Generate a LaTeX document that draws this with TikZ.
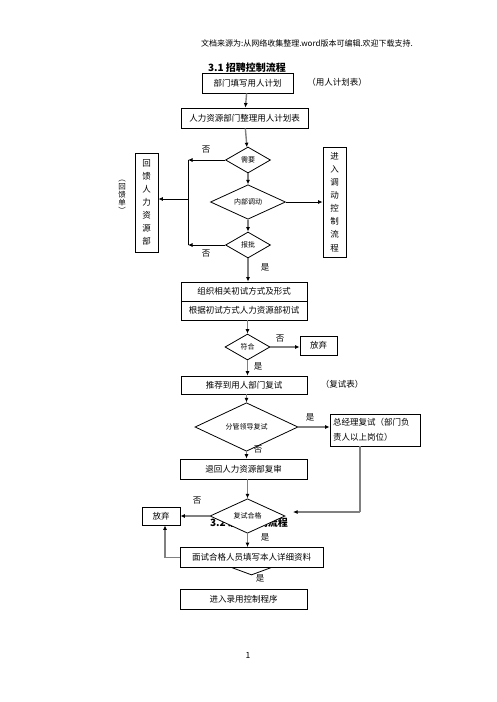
\documentclass[tikz,border=0pt]{standalone}
\usepackage{fontspec}
\newfontfamily\cjk{Noto Sans CJK SC}
\usetikzlibrary{shapes.geometric,arrows.meta}
\tikzset{
  box/.style={draw,thick,rectangle,inner sep=0pt,font=\cjk\fontsize{8.5}{10}\selectfont},
  dia/.style={draw,thick,diamond,inner sep=0pt,fill=white,font=\cjk\fontsize{7}{8}\selectfont},
  lbl/.style={font=\cjk\fontsize{8.5}{10}\selectfont,inner sep=0pt},
  garr/.style={draw=gray,line width=1.4pt,-{Latex[length=4.5pt,width=4pt,color=black]}},
  gline/.style={draw=gray,line width=1.4pt},
  barr/.style={draw,thick,-{Latex[length=4.5pt,width=4pt]}},
  bline/.style={draw,thick},
}
\begin{document}
\begin{tikzpicture}[x=1pt,y=-1pt]
\useasboundingbox[fill=white] (0,0) rectangle (496,702);
% header and title
\node[lbl,font=\cjk\fontsize{8}{9}\selectfont] (hdr) at (307,43) {文档来源为:从网络收集整理.word版本可编辑.欢迎下载支持.};
\node[lbl,font=\cjk\bfseries\fontsize{10}{11}\selectfont] (t1) at (247,68) {3.1 招聘控制流程};
% top boxes
\node[box,minimum width=91pt,minimum height=20pt] (b1) at (247.5,83) {部门填写用人计划};
\node[lbl] (n1) at (337,82) {（用人计划表）};
\node[box,minimum width=127pt,minimum height=20pt] (b2) at (244.5,118) {人力资源部门整理用人计划表};
% diamonds
\node[dia,minimum width=45pt,minimum height=26pt] (d1) at (248,160) {需要};
\node[dia,minimum width=75pt,minimum height=31pt] (d2) at (248,202) {内部调动};
\node[dia,minimum width=45pt,minimum height=26pt] (d3) at (248,245) {报批};
% side boxes
\node[box,minimum width=23pt,minimum height=99pt,align=center,font=\cjk\fontsize{8.5}{13}\selectfont] (lb) at (146.5,202.5) {回\\馈\\人\\力\\资\\源\\部};
\node[lbl,align=center,font=\cjk\fontsize{7.5}{8}\selectfont] (n2) at (122,197) {︵\\回\\馈\\单\\︶};
\node[box,minimum width=23pt,minimum height=110pt,align=center,font=\cjk\fontsize{8.5}{13.1}\selectfont] (rb) at (334.5,202) {进\\入\\调\\动\\控\\制\\流\\程};
\coordinate (j1) at (188,160);
\coordinate (j2) at (188,245);
\coordinate (j3) at (188,199);
% connectors top part
\draw[garr] (b1) -- (b2);
\draw[garr] (b2) -- (d1);
\draw[garr] (d1) -- (d2);
\draw[garr] (d2) -- (d3);
\draw[barr] (d1.west) -- (j1);
\draw[barr] (d3.west) -- (j2);
\draw[bline] (j1) -- (j2);
\draw[barr] (j3) -- (lb.east |- j3);
\draw[barr] (d2.east) -- (rb.west |- d2.east);
\node[lbl] (no1) at (206,150) {否};
\node[lbl] (no2) at (206,254) {否};
% middle
\node[box,minimum width=126pt,minimum height=19pt] (b3) at (244,291.5) {组织相关初试方式及形式};
\node[box,minimum width=126pt,minimum height=19pt] (b4) at (244,310.5) {根据初试方式人力资源部初试};
\draw[garr] (d3.south) -- (d3.south |- b3.north);
\node[lbl] (yes1) at (265,267) {是};
\node[dia,minimum width=45pt,minimum height=26pt] (d4) at (247.5,347) {符合};
\node[box,minimum width=37pt,minimum height=19pt] (q1) at (318.5,345.5) {放弃};
\node[box,minimum width=126pt,minimum height=18pt] (b5) at (244,385) {推荐到用人部门复试};
\node[lbl] (n3) at (342,384) {（复试表）};
\draw[garr] (b4.south -| d4.north) -- (d4.north);
\draw[garr] (d4.east) -- (q1.west |- d4.east);
\node[lbl] (no3) at (280,339) {否};
\draw[garr] (d4.south) -- (d4.south |- b5.north);
\node[lbl] (yes2) at (258,366) {是};
\node[dia,minimum width=103pt,minimum height=25pt] (d5) at (246.5,427) {分管领导复试};
\node[box,minimum width=90pt,minimum height=32pt,align=left,text width=84pt,font=\cjk\fontsize{8.5}{15}\selectfont] (b6) at (375,430) {总经理复试（部门负\\责人以上岗位）};
\node[box,minimum width=127pt,minimum height=20pt] (b7) at (243.5,469) {退回人力资源部复审};
\draw[garr] (b5.south -| d5.north) -- (d5.north);
\draw[garr] (d5.east) -- (b6.west |- d5.east);
\node[lbl] (yes3) at (310,417) {是};
\draw[garr] (d5.south) -- (d5.south |- b7.north);
\node[lbl] (no4) at (258,450) {否};
% bottom
\node[lbl,font=\cjk\bfseries\fontsize{10}{11}\selectfont] (t2) at (249,523) {3.2 录用控制流程};
\node[dia,minimum width=75pt,minimum height=28pt] (d6) at (247.5,516) {复试合格};
\node[box,minimum width=38pt,minimum height=18pt] (q2) at (161,516) {放弃};
\draw[garr] (b7.south -| d6.north) -- (d6.north);
\coordinate (c1) at (360,512);
\coordinate (c2) at (293,512);
\draw[gline] (b6.south -| c1) -- (c1);
\draw[garr] (c1) -- (c2);
\draw[garr] (d6.west) -- (q2.east |- d6.west);
\node[lbl] (no5) at (197,501) {否};
\node[dia,minimum width=70pt,minimum height=26pt] (d7) at (251.5,562) {};
\node[box,fill=white,minimum width=143pt,minimum height=20pt] (b8) at (251.5,557.5) {面试合格人员填写本人详细资料};
\draw[garr] (d6.south) -- (d6.south |- b8.north);
\node[lbl] (yes4) at (265,537) {是};
\coordinate (c3) at (165,557.5);
\draw[gline] (b8.west) -- (c3);
\draw[garr] (c3) -- (c3 |- q2.south);
\node[lbl] (yes5) at (260,578) {是};
\node[box,minimum width=127pt,minimum height=20pt] (b9) at (243.5,599) {进入录用控制程序};
\node[lbl] (pg) at (248,655) {1};
\end{tikzpicture}
\end{document}
